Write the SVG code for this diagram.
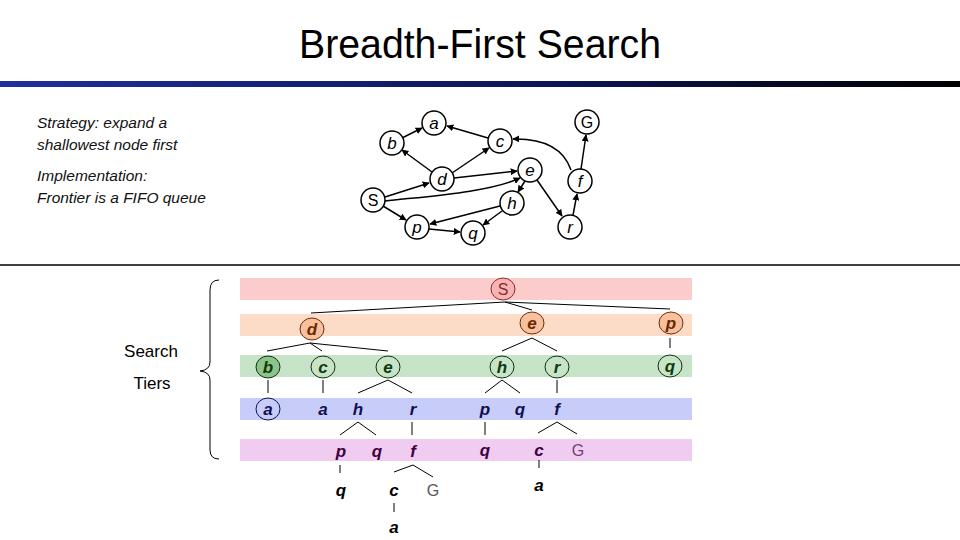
<svg xmlns="http://www.w3.org/2000/svg" width="960" height="540" viewBox="0 0 960 540">
<defs>
<linearGradient id="bar" x1="0" y1="0" x2="1" y2="0">
<stop offset="0" stop-color="#1f2f9e"/>
<stop offset="0.6" stop-color="#0c1450"/>
<stop offset="1" stop-color="#000000"/>
</linearGradient>
<marker id="arr" viewBox="0 0 10 10" refX="9" refY="5" markerWidth="7" markerHeight="7" markerUnits="userSpaceOnUse" orient="auto">
<path d="M0,0 L10,5 L0,10 z" fill="#000"/>
</marker>
<style>
.gn{fill:#fff;stroke:#000;stroke-width:1.5}
.gl{font-family:"Liberation Sans",Arial,sans-serif;font-size:17px;font-style:italic;text-anchor:middle;fill:#000}
.gp{font-family:"Liberation Sans",Arial,sans-serif;font-size:16px;text-anchor:middle;fill:#000}
.ge{fill:none;stroke:#000;stroke-width:1.5;marker-end:url(#arr)}
.tl{font-family:"Liberation Sans",Arial,sans-serif;font-size:17px;font-style:italic;font-weight:bold;text-anchor:middle}
.tp{font-family:"Liberation Sans",Arial,sans-serif;font-size:16px;text-anchor:middle}
.tr{fill:none;stroke:#000;stroke-width:1}
.side{font-family:"Liberation Sans",Arial,sans-serif;font-size:15.5px;font-style:italic;fill:#111}
</style>
</defs>
<rect width="960" height="540" fill="#fff"/>
<text x="480" y="58" font-family="Liberation Sans, Arial, sans-serif" font-size="40" text-anchor="middle" textLength="362" lengthAdjust="spacingAndGlyphs" fill="#000">Breadth-First Search</text>
<rect x="0" y="81" width="960" height="6" fill="url(#bar)"/>

<g id="notes">
<text class="side" x="37" y="128">Strategy: expand a</text>
<text class="side" x="37" y="150">shallowest node first</text>
<text class="side" x="37" y="181">Implementation:</text>
<text class="side" x="37" y="203">Frontier is a FIFO queue</text>
</g>

<g id="graph-edges">
<line class="ge" x1="402" y1="138" x2="422" y2="128"/>
<line class="ge" x1="488" y1="138" x2="447" y2="126"/>
<line class="ge" x1="432" y1="172" x2="402" y2="150"/>
<line class="ge" x1="452" y1="173" x2="489" y2="148"/>
<line class="ge" x1="454" y1="178" x2="517" y2="171"/>
<line class="ge" x1="385" y1="197" x2="429" y2="183"/>
<path class="ge" d="M385,201 C430,196 490,192 520,178"/>
<line class="ge" x1="383" y1="206" x2="406" y2="220"/>
<line class="ge" x1="525" y1="181" x2="518" y2="192"/>
<line class="ge" x1="537" y1="180" x2="562" y2="216"/>
<line class="ge" x1="500" y1="206" x2="430" y2="224"/>
<line class="ge" x1="502" y1="211" x2="483" y2="225"/>
<line class="ge" x1="429" y1="229" x2="460" y2="232"/>
<line class="ge" x1="573" y1="215" x2="577" y2="194"/>
<line class="ge" x1="581" y1="169" x2="586" y2="135"/>
<path class="ge" d="M571,170 Q560,138 513,139"/>
</g>
<g id="g-a"><circle class="gn" cx="434" cy="123" r="12"/><text class="gl" x="434" y="129">a</text></g>
<g id="g-b"><circle class="gn" cx="392" cy="143" r="12"/><text class="gl" x="392" y="149">b</text></g>
<g id="g-c"><circle class="gn" cx="500" cy="141" r="12"/><text class="gl" x="500" y="147">c</text></g>
<g id="g-G"><circle class="gn" cx="587" cy="122" r="12"/><text class="gp" x="587" y="128">G</text></g>
<g id="g-d"><circle class="gn" cx="442" cy="179" r="12"/><text class="gl" x="442" y="185">d</text></g>
<g id="g-e"><circle class="gn" cx="530" cy="170" r="12"/><text class="gl" x="530" y="176">e</text></g>
<g id="g-f"><circle class="gn" cx="580" cy="181" r="12"/><text class="gl" x="580" y="187">f</text></g>
<g id="g-S"><circle class="gn" cx="373" cy="200" r="12"/><text class="gp" x="373" y="206">S</text></g>
<g id="g-h"><circle class="gn" cx="512" cy="203" r="12"/><text class="gl" x="512" y="209">h</text></g>
<g id="g-p"><circle class="gn" cx="417" cy="227" r="12"/><text class="gl" x="417" y="233">p</text></g>
<g id="g-q"><circle class="gn" cx="473" cy="233" r="12"/><text class="gl" x="473" y="239">q</text></g>
<g id="g-r"><circle class="gn" cx="570" cy="227" r="12"/><text class="gl" x="570" y="233">r</text></g>

<line x1="0" y1="265" x2="960" y2="265" stroke="#000" stroke-width="1.5"/>

<g id="tiers-label">
<text x="151" y="357" font-family="Liberation Sans, Arial, sans-serif" font-size="17" text-anchor="middle" fill="#000">Search</text>
<text x="152" y="389" font-family="Liberation Sans, Arial, sans-serif" font-size="17" text-anchor="middle" fill="#000">Tiers</text>
<path d="M219,280 Q210,280 210,290 L210,362 Q210,370 200,371 Q210,372 210,380 L210,450 Q210,459 219,459" fill="none" stroke="#000" stroke-width="1"/>
</g>

<g id="bands">
<rect x="240" y="278" width="452" height="22" fill="#fccccc"/>
<rect x="240" y="314" width="452" height="22" fill="#fcdcc6"/>
<rect x="240" y="355" width="452" height="22" fill="#c8e4c8"/>
<rect x="240" y="398" width="452" height="22" fill="#c8ccf8"/>
<rect x="240" y="439" width="452" height="22" fill="#f0ccf0"/>
</g>

<g id="tree-edges">
<polyline class="tr" points="311,313 505,302 532,310"/>
<polyline class="tr" points="505,302 670,309"/>
<polyline class="tr" points="267,351 310,343 388,351"/>
<line class="tr" x1="310" y1="343" x2="322" y2="351"/>
<polyline class="tr" points="502,351 532,338 557,351"/>
<line class="tr" x1="670" y1="338" x2="670" y2="348"/>
<line class="tr" x1="268" y1="380" x2="268" y2="393"/>
<line class="tr" x1="323" y1="380" x2="323" y2="393"/>
<polyline class="tr" points="358,393 388,380 412,393"/>
<polyline class="tr" points="485,393 502,380 520,393"/>
<line class="tr" x1="557" y1="380" x2="557" y2="393"/>
<polyline class="tr" points="340,435 358,422 376,435"/>
<line class="tr" x1="412" y1="422" x2="412" y2="435"/>
<line class="tr" x1="485" y1="422" x2="485" y2="435"/>
<polyline class="tr" points="538,433 557,422 577,434"/>
<line class="tr" x1="340" y1="465" x2="340" y2="473"/>
<polyline class="tr" points="394,472 413,465 433,477"/>
<line class="tr" x1="394" y1="503" x2="394" y2="512"/>
<line class="tr" x1="539" y1="460" x2="539" y2="468"/>
</g>

<g id="t-S"><ellipse cx="503" cy="289" rx="12" ry="11" fill="#f8b4b4" stroke="#8a2a2a"/><text class="tp" x="503" y="295" fill="#8a2a2a">S</text></g>
<g id="t-d"><ellipse cx="312" cy="329" rx="12" ry="11" fill="#f8c09c" stroke="#6a3010"/><text class="tl" x="312" y="335" fill="#6a2a00">d</text></g>
<g id="t-e1"><ellipse cx="532" cy="323" rx="12" ry="11" fill="#f8c09c" stroke="#6a3010"/><text class="tl" x="532" y="329" fill="#6a2a00">e</text></g>
<g id="t-p1"><ellipse cx="671" cy="323" rx="12" ry="11" fill="#f8c09c" stroke="#6a3010"/><text class="tl" x="671" y="329" fill="#6a2a00">p</text></g>
<g id="t-b"><ellipse cx="268" cy="367" rx="12" ry="11" fill="#8cc48c" stroke="#103010"/><text class="tl" x="268" y="373" fill="#103a10">b</text></g>
<g id="t-c2"><ellipse cx="323" cy="367" rx="12" ry="11" fill="#c8e4c8" stroke="#103010"/><text class="tl" x="323" y="373" fill="#103a10">c</text></g>
<g id="t-e2"><ellipse cx="388" cy="367" rx="12" ry="11" fill="#c8e4c8" stroke="#103010"/><text class="tl" x="388" y="373" fill="#103a10">e</text></g>
<g id="t-h2"><ellipse cx="502" cy="367" rx="12" ry="11" fill="#c8e4c8" stroke="#103010"/><text class="tl" x="502" y="373" fill="#103a10">h</text></g>
<g id="t-r2"><ellipse cx="557" cy="367" rx="12" ry="11" fill="#c8e4c8" stroke="#103010"/><text class="tl" x="557" y="373" fill="#103a10">r</text></g>
<g id="t-q2"><ellipse cx="670" cy="366" rx="12" ry="11" fill="#c8e4c8" stroke="#103010"/><text class="tl" x="670" y="372" fill="#103a10">q</text></g>
<g id="t-a3"><ellipse cx="268" cy="409" rx="12" ry="11" fill="#c8ccf8" stroke="#101050"/><text class="tl" x="268" y="415" fill="#101050">a</text></g>
<g id="t-a3b"><text class="tl" x="323" y="415" fill="#101050">a</text></g>
<g id="t-h3"><text class="tl" x="358" y="415" fill="#101050">h</text></g>
<g id="t-r3"><text class="tl" x="413" y="415" fill="#101050">r</text></g>
<g id="t-p3"><text class="tl" x="485" y="415" fill="#101050">p</text></g>
<g id="t-q3"><text class="tl" x="520" y="415" fill="#101050">q</text></g>
<g id="t-f3"><text class="tl" x="557" y="415" fill="#101050">f</text></g>
<g id="t-p4"><text class="tl" x="341" y="457" fill="#400040">p</text></g>
<g id="t-q4"><text class="tl" x="377" y="457" fill="#400040">q</text></g>
<g id="t-f4"><text class="tl" x="413" y="457" fill="#400040">f</text></g>
<g id="t-q4b"><text class="tl" x="485" y="456" fill="#400040">q</text></g>
<g id="t-c4"><text class="tl" x="539" y="456" fill="#400040">c</text></g>
<g id="t-G4"><text class="tp" x="578" y="456" fill="#7a3a7a">G</text></g>
<g id="t-q5"><text class="tl" x="341" y="496" fill="#000">q</text></g>
<g id="t-c5"><text class="tl" x="394" y="496" fill="#000">c</text></g>
<g id="t-G5"><text class="tp" x="433" y="496" fill="#555">G</text></g>
<g id="t-a5"><text class="tl" x="394" y="533" fill="#000">a</text></g>
<g id="t-a5b"><text class="tl" x="539" y="491" fill="#000">a</text></g>
</svg>
